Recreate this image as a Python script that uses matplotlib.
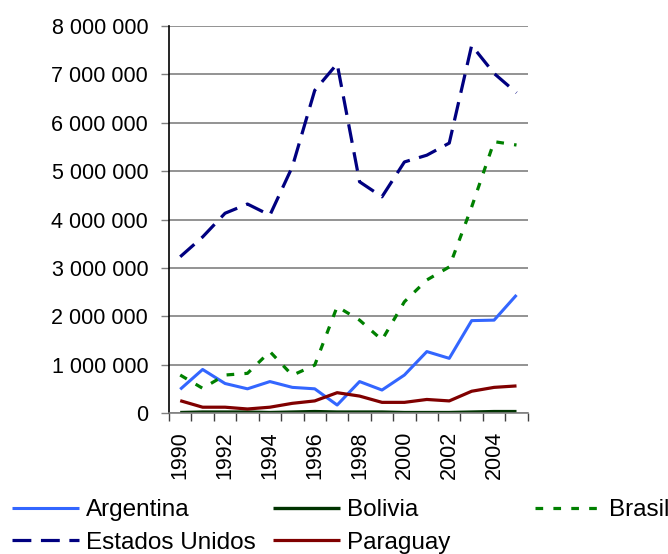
import matplotlib
matplotlib.use("Agg")
import matplotlib.pyplot as plt
from matplotlib.ticker import FixedLocator, FuncFormatter

plt.rcParams['font.family'] = ['Liberation Sans', 'DejaVu Sans']

years = list(range(1990, 2006))
argentina = [0.49, 0.90, 0.61, 0.50, 0.65, 0.53, 0.50, 0.165, 0.65, 0.475, 0.785, 1.27, 1.13, 1.91, 1.92, 2.44]
bolivia = [0.01, 0.02, 0.02, 0.02, 0.01, 0.02, 0.03, 0.02, 0.02, 0.02, 0.01, 0.01, 0.01, 0.02, 0.03, 0.03]
brasil = [0.785, 0.51, 0.785, 0.82, 1.27, 0.78, 0.99, 2.20, 1.92, 1.51, 2.30, 2.75, 3.02, 4.26, 5.61, 5.54]
estados_unidos = [3.23, 3.64, 4.13, 4.32, 4.09, 5.09, 6.67, 7.22, 4.78, 4.47, 5.19, 5.33, 5.58, 7.60, 7.02, 6.62]
paraguay = [0.255, 0.12, 0.12, 0.083, 0.12, 0.20, 0.25, 0.42, 0.35, 0.22, 0.22, 0.28, 0.25, 0.45, 0.53, 0.56]

series = [
    ("Argentina", argentina, dict(color="#3366FF", lw=2.2, ls="-")),
    ("Bolivia", bolivia, dict(color="#003300", lw=2.4, ls="-")),
    ("Brasil", brasil, dict(color="#008000", lw=2.3, ls=(0, (2.4, 3.2)))),
    ("Estados Unidos", estados_unidos, dict(color="#000080", lw=2.3, ls=(0, (5.9, 3.0)))),
    ("Paraguay", paraguay, dict(color="#800000", lw=2.3, ls="-")),
]

fig = plt.figure(figsize=(6.68, 5.54), dpi=100)
ax = fig.add_axes([0.253, 0.2545, 0.537, 0.6985])

x = list(range(len(years)))
handles = {}
for name, vals, st in series:
    (h,) = ax.plot(x, [v * 1e6 for v in vals], label=name, solid_capstyle="butt",
                   dash_capstyle="butt", **st)
    handles[name] = h

ax.set_xlim(-0.5, len(years) - 0.5)
ax.set_ylim(0, 8e6)
ax.set_yticks([i * 1e6 for i in range(9)])
ax.yaxis.set_major_formatter(FuncFormatter(lambda v, p: f"{int(round(v)):,}".replace(",", " ")))
ax.yaxis.grid(True, color="#808080", lw=1.2)
ax.set_axisbelow(True)

ax.set_xticks(x[::2])
ax.set_xticklabels([str(y) for y in years[::2]], rotation=90)
ax.xaxis.set_minor_locator(FixedLocator([i - 0.5 for i in range(len(years) + 1)]))
ax.tick_params(axis="x", which="major", length=0, pad=13, labelsize=15.5)
ax.tick_params(axis="x", which="minor", length=6, width=1, color="#404040", direction="out")
ax.tick_params(axis="y", which="major", length=6, width=1, color="#808080", pad=9, labelsize=15.5)

for s in ["top", "right"]:
    ax.spines[s].set_visible(False)
ax.spines["left"].set_color("black")
ax.spines["left"].set_linewidth(1.2)
ax.spines["bottom"].set_color("#808080")
ax.spines["bottom"].set_linewidth(1.2)

cols = [(["Argentina", "Estados Unidos"], 12), (["Bolivia", "Paraguay"], 273), (["Brasil"], 535)]
for names, xpix in cols:
    fig.legend([handles[n] for n in names], names, loc="upper left",
               bbox_to_anchor=(xpix / 668, 1 - 499 / 554), frameon=False,
               fontsize=17.5, handlelength=2.75, handletextpad=0.3,
               borderpad=0, borderaxespad=0, labelspacing=0.45)

fig.savefig("out.png", dpi=100)
